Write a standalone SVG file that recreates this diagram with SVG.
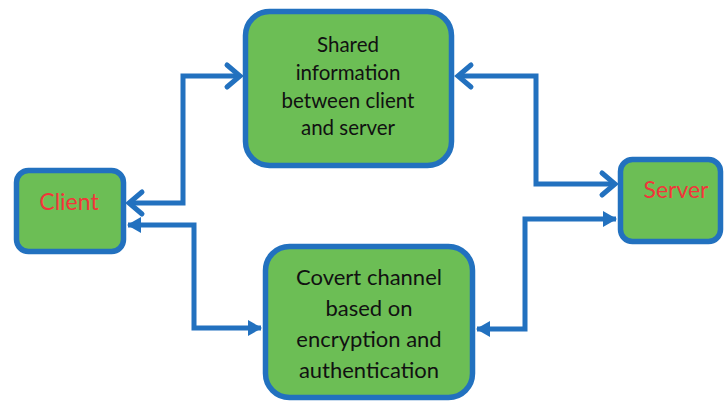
<svg xmlns="http://www.w3.org/2000/svg" width="724" height="402" viewBox="0 0 724 402">
  <style>
    .box { fill: #6CBE55; stroke: #2271BF; stroke-width: 5.5; }
    .lbl { font-family: Lato, "Open Sans", sans-serif; font-size: 20.5px; fill: #111; text-anchor: middle; }
    .big { font-size: 22px; }
    .red { fill: #F2353A; font-size: 23px; }
    .conn { fill: none; stroke: #2271BF; stroke-width: 5; }
  </style>
  <defs>
    <marker id="chev" markerUnits="userSpaceOnUse" markerWidth="24" markerHeight="30" viewBox="-20 -15 24 30" refX="0" refY="0" orient="auto-start-reverse">
      <path d="M -13,-11 L 0,0 L -13,11" fill="none" stroke="#2271BF" stroke-width="5" stroke-linecap="round" stroke-linejoin="miter"/>
    </marker>
    <marker id="tri" markerUnits="userSpaceOnUse" markerWidth="20" markerHeight="20" viewBox="-16 -10 20 20" refX="0" refY="0" orient="auto-start-reverse">
      <path d="M -13,-8 L 1,0 L -13,8 Z" fill="#2271BF"/>
    </marker>
  </defs>

  <g id="connectors">
    <path class="conn" d="M 129,203 H 183 V 76 H 240" marker-start="url(#chev)" marker-end="url(#chev)"/>
    <path class="conn" d="M 458,76 H 536 V 184 H 615" marker-start="url(#chev)" marker-end="url(#chev)"/>
    <path class="conn" d="M 128,225 H 194 V 328 H 261" marker-start="url(#tri)" marker-end="url(#tri)"/>
    <path class="conn" d="M 477,329 H 525 V 219 H 616" marker-start="url(#tri)" marker-end="url(#tri)"/>
  </g>

  <g id="shared">
    <rect class="box" x="245.5" y="11.5" width="206" height="154" rx="24"/>
    <text class="lbl" x="348" y="52">Shared</text>
    <text class="lbl" x="348" y="80">information</text>
    <text class="lbl" x="348" y="108">between client</text>
    <text class="lbl" x="348" y="135">and server</text>
  </g>

  <g id="client">
    <rect class="box" x="16.5" y="170.5" width="107" height="81" rx="12"/>
    <text class="lbl red" x="69" y="210">Client</text>
  </g>

  <g id="server">
    <rect class="box" x="620.5" y="159.5" width="100" height="82" rx="12"/>
    <text class="lbl red" x="676" y="198">Server</text>
  </g>

  <g id="covert">
    <rect class="box" x="265.5" y="246.5" width="207" height="151" rx="24"/>
    <text class="lbl big" x="369" y="285">Covert channel</text>
    <text class="lbl big" x="369" y="316">based on</text>
    <text class="lbl big" x="369" y="347">encryption and</text>
    <text class="lbl big" x="369" y="378">authentication</text>
  </g>
</svg>
